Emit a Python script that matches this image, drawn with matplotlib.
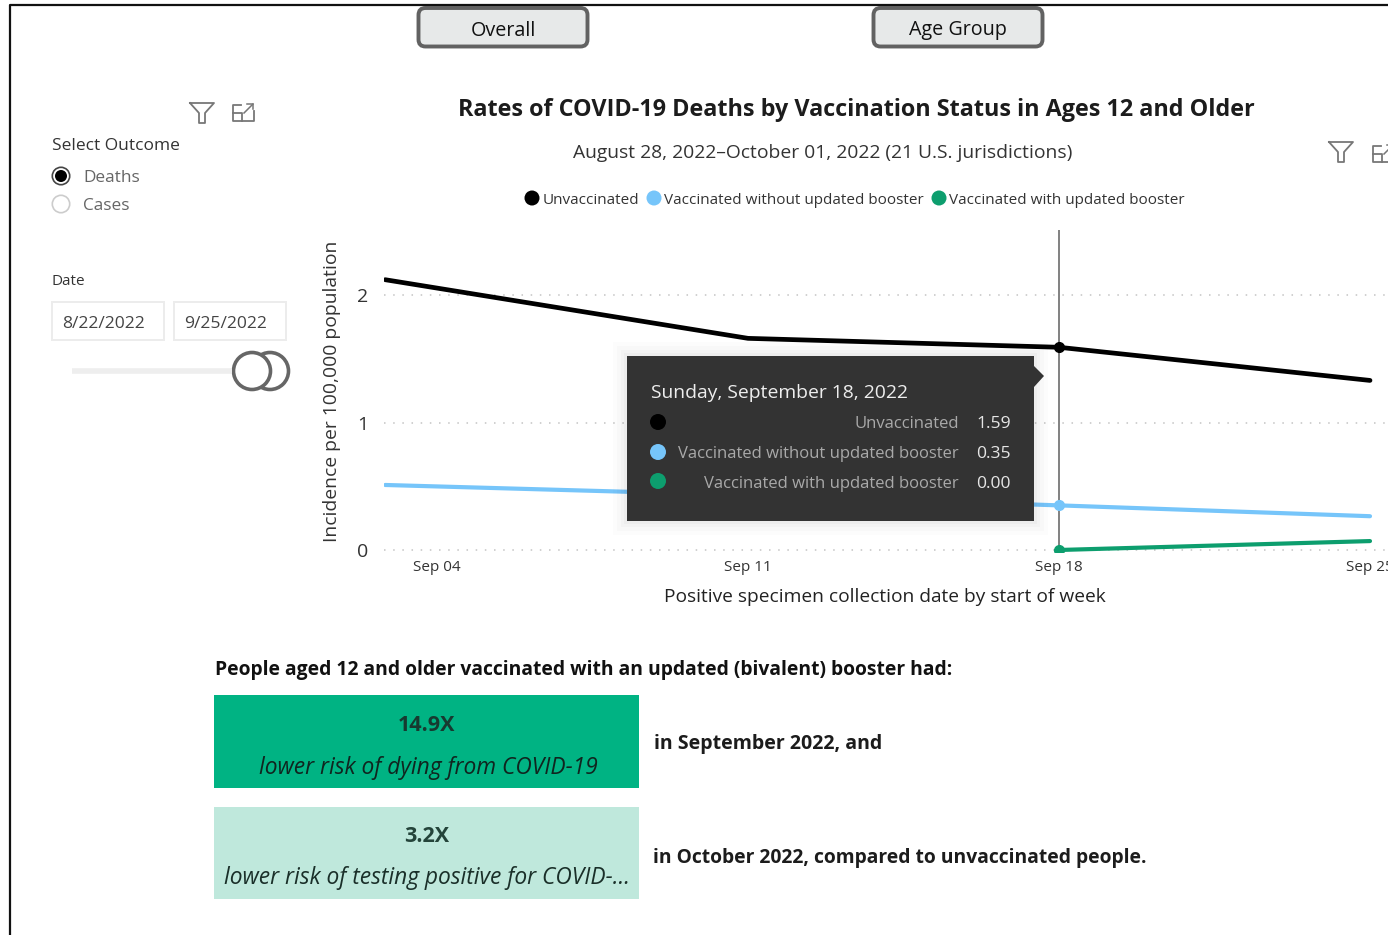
import datetime as dt

import numpy as np
import matplotlib
matplotlib.use("Agg")
import matplotlib.pyplot as plt
import matplotlib.dates as mdates
import matplotlib.patches as patches

plt.rcParams['font.family'] = ['Open Sans', 'DejaVu Sans']

# Weekly rates per 100,000; the first point sits at the left edge of the plot
week_dates = [dt.datetime(2022, 9, 2, 20), dt.datetime(2022, 9, 11),
              dt.datetime(2022, 9, 18), dt.datetime(2022, 9, 25)]
unvaccinated = [2.12, 1.66, 1.59, 1.33]
no_booster = [0.51, 0.43, 0.35, 0.265]
with_booster = [np.nan, np.nan, 0.00, 0.07]

series_names = ['Unvaccinated', 'Vaccinated without updated booster', 'Vaccinated with updated booster']
series_colors = ['#000000', '#76c5fa', '#0d9e6e']
tick_dates = [dt.datetime(2022, 9, 4), dt.datetime(2022, 9, 11),
              dt.datetime(2022, 9, 18), dt.datetime(2022, 9, 25)]
y_ticks = [0, 1, 2]
hover_index = 2
hover_title = 'Sunday, September 18, 2022'

W, H = 1388, 935
fig = plt.figure(figsize=(W / 100, H / 100), dpi=100, facecolor='white')


def px_axes(left, top, right, bottom, **kw):
    return fig.add_axes([left / W, 1 - bottom / H, (right - left) / W, (bottom - top) / H], **kw)


# Line chart; the plot runs a little below zero so the zero line is not cut in half
ax = px_axes(384, 230, 1388, 552)
px_per_day = 311 / 7
sep18 = mdates.date2num(dt.datetime(2022, 9, 18))
ax.set_xlim(sep18 - (1059 - 384) / px_per_day, sep18 + (1388 - 1059) / px_per_day)
ax.set_ylim(-2 / 127.5, 320 / 127.5)
for spine in ax.spines.values():
    spine.set_visible(False)
ax.set_yticks(y_ticks)
ax.set_yticklabels([str(v) for v in y_ticks], fontsize=14, color='#333333')
ax.set_xticks(tick_dates)
ax.set_xticklabels([d.strftime('%b %d') for d in tick_dates], fontsize=11, color='#333333')
ax.tick_params(axis='both', length=0)
ax.tick_params(axis='x', pad=5.6)
ax.tick_params(axis='y', pad=11)
ax.grid(axis='y', color='#c4c4c4', linestyle=(0, (1, 5)), linewidth=1.1)
ax.set_axisbelow(True)
ax.plot([week_dates[hover_index]] * 2, [0, 320 / 127.5], color='#5f5f5f', linewidth=1.1, zorder=2)

all_series = [unvaccinated, no_booster, with_booster]
for values, color in zip(all_series, series_colors):
    line_w = 3.4 if color == '#000000' else 3
    ax.plot(week_dates, values, color=color, linewidth=line_w, solid_capstyle='round', zorder=3)
    ax.plot(week_dates[hover_index], values[hover_index], 'o', color=color, markersize=7, zorder=4)

# Everything around the chart is laid out in pixel coordinates on a transparent overlay
ov = px_axes(0, 0, W, H)
ov.set_xlim(0, W)
ov.set_ylim(H, 0)
ov.axis('off')
ov.patch.set_alpha(0)

# Page frame
ov.plot([10, 10, W], [H, 4.5, 4.5], color='#111111', linewidth=1.6)


def label(x, y, s, size, color='#222222', ha='left', **kw):
    # the font sits a touch high when centred, so nudge it down
    ov.text(x, y + 1.5, s, fontsize=size, color=color, ha=ha, va='center', **kw)


# Toggle buttons
for x0, name in [(418.5, 'Overall'), (873.5, 'Age Group')]:
    ov.add_patch(patches.FancyBboxPatch((x0 + 5, 13), 159, 28.5, boxstyle='round,pad=5,rounding_size=7',
                                        facecolor='#e7e9e9', edgecolor='#626262', linewidth=2.8))
    label(x0 + 84.5, 29, name, 14.2, '#111111', ha='center')


def filter_icon(x, y):
    ov.plot([x, x + 24, x + 15, x + 15, x + 9, x + 9, x],
            [y, y, y + 10, y + 20, y + 20, y + 10, y], color='#777777', linewidth=1.3)


def expand_icon(x, y):
    ov.plot([x + 8, x, x, x + 21, x + 21], [y + 2, y + 2, y + 18, y + 18, y + 8], color='#777777', linewidth=1.3)
    ov.plot([x, x + 9, x + 9], [y + 10, y + 10, y + 18], color='#777777', linewidth=1.3)
    ov.plot([x + 11, x + 20], [y + 10, y + 1], color='#777777', linewidth=1.1)
    ov.plot([x + 14, x + 20, x + 20], [y + 1, y + 1, y + 6], color='#777777', linewidth=1.1)


filter_icon(190, 103)
expand_icon(233, 103)
filter_icon(1329, 142)
expand_icon(1373, 144)

# Outcome selector
label(52, 145, 'Select Outcome', 12.5, '#333333')
ov.add_patch(patches.Circle((61, 176), 8.7, facecolor='white', edgecolor='#444444', linewidth=1.2))
ov.add_patch(patches.Circle((61, 176), 6, facecolor='#000000', edgecolor='none'))
label(83, 176, 'Deaths', 12.4, '#666666')
ov.add_patch(patches.Circle((61, 204), 8.7, facecolor='white', edgecolor='#cccccc', linewidth=1.2))
label(83, 204, 'Cases', 12.4, '#666666')

# Date slicer
label(52, 280, 'Date', 11, '#333333')
for x0, s in [(52, '8/22/2022'), (174, '9/25/2022')]:
    ov.add_patch(patches.Rectangle((x0, 302), 112, 38, facecolor='white', edgecolor='#ececec', linewidth=1.4))
    label(x0 + 10, 322, s, 12.6, '#444444')
ov.plot([72, 232], [371, 371], color='#eeeeee', linewidth=4, solid_capstyle='butt')
ov.add_patch(patches.Circle((270, 371), 18.5, facecolor='white', edgecolor='#666666', linewidth=2.6))
ov.add_patch(patches.Circle((252, 371), 18.5, facecolor='white', edgecolor='#666666', linewidth=2.6))

# Headings and legend
label(856.5, 108, 'Rates of COVID-19 Deaths by Vaccination Status in Ages 12 and Older', 16.8, '#1c1c1c',
      ha='center', fontweight='bold')
label(823, 152, 'August 28, 2022–October 01, 2022 (21 U.S. jurisdictions)', 13.9, '#333333', ha='center')
for dot_x, text_x, name, color in zip([532, 654, 939], [543, 664, 949], series_names, series_colors):
    ov.add_patch(patches.Circle((dot_x, 198), 7.5, facecolor=color, edgecolor='none'))
    label(text_x, 199, name, 11, '#333333')

label(332, 390, 'Incidence per 100,000 population', 13.9, '#333333', ha='center', rotation=90)
label(885, 595, 'Positive specimen collection date by start of week', 13.8, '#222222', ha='center')

# Hover tooltip with a soft shadow
for grow, alpha in [(14, 0.012), (10, 0.015), (6, 0.02), (3, 0.025)]:
    ov.add_patch(patches.Rectangle((627 - grow, 356 - grow), 407 + 2 * grow, 165 + 2 * grow,
                                   facecolor='black', edgecolor='none', alpha=alpha, zorder=5))
ov.add_patch(patches.Polygon([[1034, 366], [1044, 376], [1034, 387]], facecolor='#333333', edgecolor='none', zorder=6))
ov.add_patch(patches.Rectangle((627, 356), 407, 165, facecolor='#333333', edgecolor='none', zorder=6))
label(651, 392, hover_title, 13.9, '#eeeeee', zorder=7)
for row_y, name, color, values in zip([423, 453, 482], series_names, series_colors, all_series):
    ov.add_patch(patches.Circle((658, row_y - 1), 8, facecolor=color, edgecolor='none', zorder=7))
    label(959, row_y, name, 12, '#a9a9a9', ha='right', zorder=7)
    label(976, row_y, f'{values[hover_index]:.2f}', 12.6, '#e6e6e6', zorder=7)

# Risk summary
label(215, 669, 'People aged 12 and older vaccinated with an updated (bivalent) booster had:', 13.9, '#111111',
      fontweight='bold')
ov.add_patch(patches.Rectangle((214, 695), 425, 93, facecolor='#00b383', edgecolor='none'))
ov.add_patch(patches.Rectangle((214, 807), 425, 92, facecolor='#bfe8dc', edgecolor='none'))
label(427, 724, '14.9X', 15.5, '#173a30', ha='center', fontweight='bold')
label(428, 766, 'lower risk of dying from COVID-19', 16.4, '#10251f', ha='center', style='italic')
label(427, 835, '3.2X', 15.5, '#24443a', ha='center', fontweight='bold')
label(427, 877, 'lower risk of testing positive for COVID-...', 16.4, '#1a2f29', ha='center', style='italic')
label(654, 742, 'in September 2022, and', 14, '#1c1c1c', fontweight='bold')
label(653, 856, 'in October 2022, compared to unvaccinated people.', 13.85, '#1c1c1c', fontweight='bold')

fig.savefig('out.png', dpi=100)
plt.close(fig)
